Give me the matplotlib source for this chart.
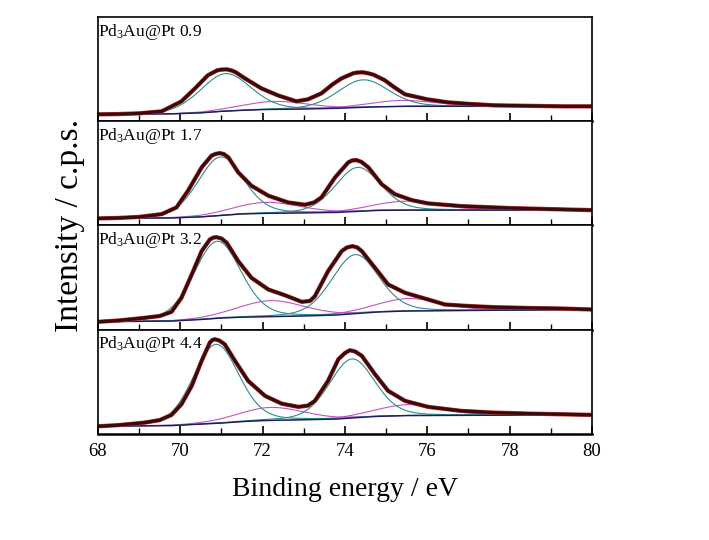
import numpy as np
import matplotlib
matplotlib.use('Agg')
import matplotlib.pyplot as plt
from matplotlib.ticker import MultipleLocator, NullLocator

plt.rcParams['font.family'] = ['Liberation Serif', 'DejaVu Serif']
plt.rcParams['mathtext.fontset'] = 'custom'
plt.rcParams['mathtext.rm'] = 'Liberation Serif'
plt.rcParams['mathtext.default'] = 'regular'

# Pt loading of each sample (panel labels, top to bottom)
loadings = ['0.9', '1.7', '3.2', '4.4']

e_09 = [68.0, 68.5, 69.0, 69.55, 70.03, 70.36, 70.67, 70.9, 71.0, 71.13, 71.25, 71.35,
        71.57, 71.97, 72.37, 72.82, 73.1, 73.43, 73.7, 73.92, 74.2, 74.3, 74.44, 74.57,
        74.7, 74.97, 75.2, 75.46, 76.0, 76.5, 77.0, 77.64, 78.5, 79.3, 80.0]
i_09 = [7, 7.3, 8, 10, 20, 33, 46, 51, 51.7, 52, 50.8, 49,
        43, 33, 26, 20, 22, 28, 37, 43, 48, 48.8, 49, 48,
        46.5, 41, 34, 27, 22, 19, 17.5, 16, 15.5, 15, 15]

e_17 = [68.0, 68.5, 69.0, 69.55, 69.91, 70.19, 70.52, 70.76, 70.86, 70.96, 71.06, 71.17,
        71.41, 71.73, 72.14, 72.62, 73.03, 73.25, 73.43, 73.76, 74.08, 74.18, 74.28, 74.4,
        74.57, 74.89, 75.21, 75.62, 76.02, 76.83, 78.05, 79.0, 80.0]
i_17 = [7, 7.5, 8.5, 11.3, 18, 34.7, 58, 69.7, 71.5, 72.3, 71.3, 68,
        53, 39.7, 29.7, 23, 20.7, 23, 28, 48, 63, 65, 65.3, 63.5,
        58, 41.3, 31.3, 25.3, 22, 19.3, 17.3, 16.3, 15.3]

e_32 = [68.0, 68.5, 69.14, 69.5, 69.79, 70.03, 70.28, 70.52, 70.72, 70.8, 70.88, 71.0,
        71.13, 71.41, 71.73, 72.14, 72.54, 72.95, 73.15, 73.27, 73.59, 73.92, 74.05, 74.18,
        74.3, 74.41, 74.73, 75.05, 75.46, 76.02, 76.43, 77.0, 77.64, 78.5, 79.26, 80.0]
i_32 = [7.7, 9, 11.7, 13.5, 17.7, 31.7, 55, 78.3, 90, 91.8, 92.3, 91,
        86.7, 68.3, 51.7, 40, 34.3, 27.7, 28.5, 33.3, 58.3, 78.3, 82, 83.3,
        82, 78.3, 61.7, 45, 36.7, 30, 25, 23.5, 22.3, 21.5, 21, 20]

e_44 = [68.0, 68.5, 69.14, 69.5, 69.79, 70.03, 70.28, 70.52, 70.72, 70.78, 70.84, 70.95,
        71.08, 71.33, 71.65, 72.06, 72.46, 72.87, 73.1, 73.27, 73.59, 73.84, 74.0, 74.12,
        74.25, 74.41, 74.73, 75.05, 75.46, 76.02, 76.83, 77.6, 78.45, 79.3, 80.0]
i_44 = [7.3, 8.5, 11, 13.5, 18.7, 29.3, 47.7, 72.7, 91, 93.5, 94.3, 93,
        89.3, 72.7, 52.7, 37.7, 30, 26.7, 28, 32.7, 52.7, 74.3, 80.5, 83.3,
        82, 77.7, 59.3, 42.7, 32.7, 26.7, 22.7, 21, 20, 19.3, 18.7]

# Shirley backgrounds (energy, intensity)
bg_e = [68.0, 69.8, 70.5, 71.0, 71.5, 72.0, 73.0, 73.8, 74.3, 74.8, 75.5, 80.0]
bg_09 = [7, 7.5, 8.5, 10, 11, 11.8, 12.3, 13, 13.8, 14.5, 15, 15]
bg_17 = [7, 7.5, 8.5, 10, 11.5, 12, 12.5, 13, 14, 15, 15.3, 15.3]
bg_32 = [7.7, 8.5, 10, 11.5, 12.3, 12.7, 13.5, 14.5, 16, 17.5, 18.5, 20]
bg_44 = [7.3, 8, 9.5, 10.5, 12, 13, 13.8, 14.5, 16, 17.2, 18, 18.7]

# Fitted doublets: (centre eV, height above background, FWHM eV)
metal_09 = [(71.1, 37.5, 1.45), (74.44, 27.5, 1.45)]
metal_17 = [(70.98, 58.5, 1.3), (74.31, 44, 1.3)]
metal_32 = [(70.9, 77, 1.35), (74.25, 59, 1.35)]
metal_44 = [(70.87, 79, 1.3), (74.17, 59, 1.3)]

oxide_09 = [(72.3, 8, 1.9), (75.4, 6, 1.9)]
oxide_17 = [(72.1, 11, 1.9), (75.5, 9, 1.9)]
oxide_32 = [(72.2, 16, 1.9), (75.55, 12.5, 1.9)]
oxide_44 = [(72.2, 13, 1.9), (75.55, 11, 1.9)]

panels = [
    (e_09, i_09, bg_09, metal_09, oxide_09),
    (e_17, i_17, bg_17, metal_17, oxide_17),
    (e_32, i_32, bg_32, metal_32, oxide_32),
    (e_44, i_44, bg_44, metal_44, oxide_44),
]


def gl(x, c, h, w, mix=0.2):
    # Gaussian-Lorentzian sum shape used by the fit
    g = np.exp(-4 * np.log(2) * ((x - c) / w) ** 2)
    lor = 1 / (1 + 4 * ((x - c) / w) ** 2)
    return h * ((1 - mix) * g + mix * lor)


fig = plt.figure(figsize=(7.09, 5.40), dpi=100)
axes = fig.subplots(4, 1, sharex=True)
fig.subplots_adjust(left=0.138, right=0.835, top=0.968, bottom=0.197, hspace=0)

xs = np.linspace(68, 80, 600)
for ax, lab, (e, inten, bg, metal, oxide) in zip(axes, loadings, panels):
    base = np.interp(xs, bg_e, bg)
    for c, h, w in oxide:
        ax.plot(xs, base + gl(xs, c, h, w), color='#c454c4', lw=0.8)
    for c, h, w in metal:
        ax.plot(xs, base + gl(xs, c, h, w), color='#2f8c8c', lw=0.8)
    ax.plot(bg_e, bg, color='#1c1c5a', lw=1.0)
    ax.plot(e, inten, color='#b83a3a', lw=3.1, solid_joinstyle='round')
    ax.plot(e, inten, color='#3a0a0a', lw=2.3, solid_joinstyle='round')

    ax.text(0.0, 0.955, 'Pd$_3$Au@Pt ' + lab, transform=ax.transAxes,
            ha='left', va='top', fontsize=12.5)

    ax.set_xlim(68, 80)
    ax.set_ylim(0, 104)
    ax.yaxis.set_major_locator(NullLocator())
    ax.xaxis.set_major_locator(MultipleLocator(2))
    ax.xaxis.set_minor_locator(MultipleLocator(1))
    ax.tick_params(axis='x', which='major', direction='in', length=6, width=1.2,
                   labelsize=13.5, pad=7)
    ax.tick_params(axis='x', which='minor', direction='in', length=4, width=1.0)
    for s in ax.spines.values():
        s.set_linewidth(1.2)
    ax.spines['bottom'].set_linewidth(1.8)

fig.text(0.486, 0.093, 'Binding energy / eV', ha='center', va='center', fontsize=20)
fig.text(0.099, 0.583, 'Intensity / c.p.s.', ha='center', va='center',
         rotation=90, fontsize=24)

fig.savefig('out.png', dpi=100)
